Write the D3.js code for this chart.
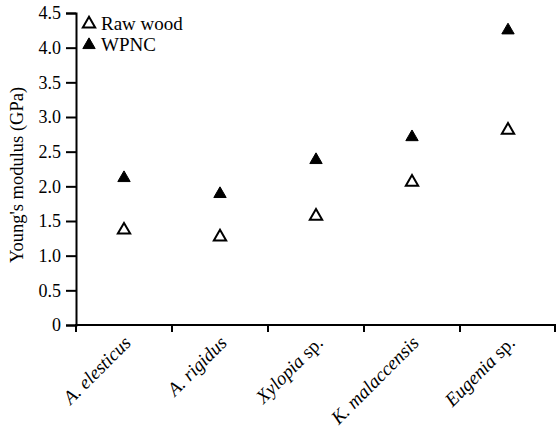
<!DOCTYPE html>
<html>
<head>
<meta charset="utf-8">
<script src="https://cdn.jsdelivr.net/npm/d3@7"></script>
<style>
  html, body { margin: 0; padding: 0; background: #fff; }
  svg { display: block; }
  svg text { font-family: "Times New Roman", Times, "Liberation Serif", "DejaVu Serif", serif; fill: #000; }
</style>
</head>
<body>
<svg id="chart" width="556" height="431"></svg>
<script>
// Species (italic genus/species part, plain suffix)
const species = ["A. elesticus", "A. rigidus", "Xylopia sp.", "K. malaccensis", "Eugenia sp."];
const italicPart = ["A. elesticus", "A. rigidus", "Xylopia", "K. malaccensis", "Eugenia"];
const plainPart = ["", "", " sp.", "", " sp."];

// Young's modulus (GPa)
const rawWood = [1.37, 1.27, 1.57, 2.06, 2.81];
const wpnc = [2.12, 1.89, 2.38, 2.71, 4.25];

const yTicks = [0, 0.5, 1.0, 1.5, 2.0, 2.5, 3.0, 3.5, 4.0, 4.5];
const yTickLabels = ["0", "0.5", "1.0", "1.5", "2.0", "2.5", "3.0", "3.5", "4.0", "4.5"];

const seriesNames = ["Raw wood", "WPNC"];

const svg = d3.select("#chart");
const plotLeft = 76, plotRight = 556, plotTop = 13, plotBottom = 325;
const serif = "'Times New Roman', Times, 'Liberation Serif', 'DejaVu Serif', serif";

const x = d3.scaleBand().domain(species).range([plotLeft, plotRight]);
const y = d3.scaleLinear().domain([0, 4.5]).range([plotBottom, plotTop]);

// Y axis
const yAxis = svg.append("g")
  .attr("transform", `translate(${plotLeft},0)`)
  .call(d3.axisLeft(y).tickValues(yTicks).tickFormat((d, i) => yTickLabels[i]).tickSize(10).tickPadding(5));
yAxis.attr("font-family", serif);
yAxis.select(".domain").attr("stroke", "#000").attr("stroke-width", 2);
yAxis.selectAll(".tick line").attr("stroke", "#000").attr("stroke-width", 2);
yAxis.selectAll(".tick text").attr("font-size", 18).attr("font-family", serif).attr("fill", "#000");

// X axis: ticks at band boundaries
const boundaries = species.map(s => x(s)).concat([plotRight]);
svg.append("line")
  .attr("x1", plotLeft - 1).attr("x2", plotRight)
  .attr("y1", plotBottom).attr("y2", plotBottom)
  .attr("stroke", "#000").attr("stroke-width", 2);
svg.append("g").selectAll("line").data(boundaries).join("line")
  .attr("x1", d => Math.min(d, plotRight - 1)).attr("x2", d => Math.min(d, plotRight - 1))
  .attr("y1", plotBottom).attr("y2", plotBottom + 7)
  .attr("stroke", "#000").attr("stroke-width", 2);

// X labels, rotated
const lab = svg.append("g").selectAll("text").data(species).join("text")
  .attr("transform", d => `translate(${x(d) + x.bandwidth() / 2 + 8},${plotBottom + 19}) rotate(-45)`)
  .attr("text-anchor", "end")
  .attr("font-family", serif)
  .attr("font-size", 19)
  .attr("fill", "#000");
lab.append("tspan").attr("font-style", "italic").text((d, i) => italicPart[i]);
lab.append("tspan").text((d, i) => plainPart[i]);

// Y axis title
svg.append("text")
  .attr("transform", `translate(23,${(plotTop + plotBottom) / 2 + 6}) rotate(-90)`)
  .attr("text-anchor", "middle")
  .attr("font-family", serif)
  .attr("font-size", 18.5)
  .attr("fill", "#000")
  .text("Young's modulus (GPa)");

// Triangle markers
const tri = d3.symbol().type(d3.symbolTriangle).size(66);
const cx = d => x(d) + x.bandwidth() / 2;

svg.append("g").selectAll("path").data(species).join("path")
  .attr("d", tri)
  .attr("transform", (d, i) => `translate(${cx(d)},${y(rawWood[i])})`)
  .attr("fill", "#fff").attr("stroke", "#000").attr("stroke-width", 2);

svg.append("g").selectAll("path").data(species).join("path")
  .attr("d", tri)
  .attr("transform", (d, i) => `translate(${cx(d)},${y(wpnc[i])})`)
  .attr("fill", "#000").attr("stroke", "#000").attr("stroke-width", 1);

// Legend
const legend = svg.append("g");
seriesNames.forEach((name, i) => {
  const ly = 24 + i * 21;
  legend.append("path")
    .attr("d", tri)
    .attr("transform", `translate(89,${ly})`)
    .attr("fill", i === 0 ? "#fff" : "#000")
    .attr("stroke", "#000").attr("stroke-width", i === 0 ? 2 : 1);
  legend.append("text")
    .attr("x", 101).attr("y", ly + 6)
    .attr("font-family", serif)
    .attr("font-size", 19).attr("fill", "#000")
    .text(name);
});
</script>
</body>
</html>
